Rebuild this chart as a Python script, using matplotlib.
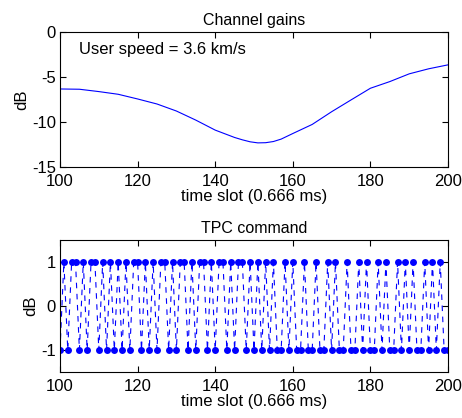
import matplotlib
matplotlib.use('Agg')
import matplotlib.pyplot as plt
import numpy as np

# channel gain (dB)
gain_slots = [100, 105, 110, 115, 120, 125, 130, 135, 140, 145, 147, 149,
              151, 153, 155, 157, 160, 165, 170, 175, 180, 185, 190, 195, 200]
gain_db = [-6.33, -6.36, -6.62, -6.92, -7.44, -8.0, -8.78, -9.79, -10.9,
           -11.72, -11.98, -12.2, -12.32, -12.3, -12.17, -11.9, -11.28,
           -10.27, -8.86, -7.55, -6.25, -5.51, -4.65, -4.09, -3.65]

# TPC commands for slots 100..200 (+1 up, -1 down)
tpc_cmd = [-1, 1, -1, 1, 1, -1, 1, -1, 1, 1,
           -1, 1, -1, 1, -1, 1, -1, 1, -1, 1,
           1, -1, 1, -1, 1, -1, 1, 1, -1, 1,
           -1, 1, 1, -1, 1, -1, 1, 1, -1, 1,
           -1, 1, 1, -1, 1, -1, 1, 1, -1, 1,
           -1, 1, -1, 1, -1, 1, -1, -1, 1, -1,
           1, -1, -1, 1, -1, -1, 1, -1, -1, 1,
           -1, 1, -1, -1, 1, -1, -1, 1, -1, 1,
           -1, -1, 1, -1, 1, -1, -1, 1, -1, 1,
           -1, 1, -1, -1, 1, -1, 1, -1, 1, -1,
           -1]
tpc_slots = np.arange(100, 100 + len(tpc_cmd))

plt.rcParams['font.family'] = ['Liberation Sans', 'DejaVu Sans']
plt.rcParams['font.size'] = 12
plt.rcParams['axes.unicode_minus'] = False


def style_axes(ax):
    ax.tick_params(direction='in', top=True, right=True, length=4,
                   width=0.8, labelsize=12)
    ax.tick_params(axis='x', pad=5)
    ax.tick_params(axis='y', pad=3)
    for sp in ax.spines.values():
        sp.set_linewidth(0.8)


fig = plt.figure(figsize=(4.62, 4.18), dpi=100)

# Channel gains
ax1 = fig.add_axes([60 / 462, 1 - 167 / 418, 388 / 462, 135 / 418])
ax1.plot(gain_slots, gain_db, color='blue', linewidth=0.8)
ax1.set_xlim(100, 200)
ax1.set_ylim(-15, 0)
ax1.set_xticks(range(100, 201, 20))
ax1.set_yticks([-15, -10, -5, 0])
ax1.set_title('Channel gains', fontsize=11.5, pad=5)
ax1.set_xlabel('time slot (0.666 ms)', labelpad=0)
ax1.set_ylabel('dB', labelpad=2)
ax1.text(105, -1.9, 'User speed = 3.6 km/s', va='center', ha='left')
style_axes(ax1)

# TPC command
ax2 = fig.add_axes([60 / 462, 1 - 372 / 418, 388 / 462, 132 / 418])
ax2.plot(tpc_slots, tpc_cmd, color='blue', linestyle='--', linewidth=0.8,
         dashes=(5, 5), marker='o', markersize=5, markeredgewidth=0)
ax2.set_xlim(100, 200)
ax2.set_ylim(-1.5, 1.5)
ax2.set_xticks(range(100, 201, 20))
ax2.set_yticks([-1, 0, 1])
ax2.set_title('TPC command', fontsize=11.5, pad=5)
ax2.set_xlabel('time slot (0.666 ms)', labelpad=0)
ax2.set_ylabel('dB', labelpad=2)
style_axes(ax2)

fig.savefig('out.png', dpi=100)
